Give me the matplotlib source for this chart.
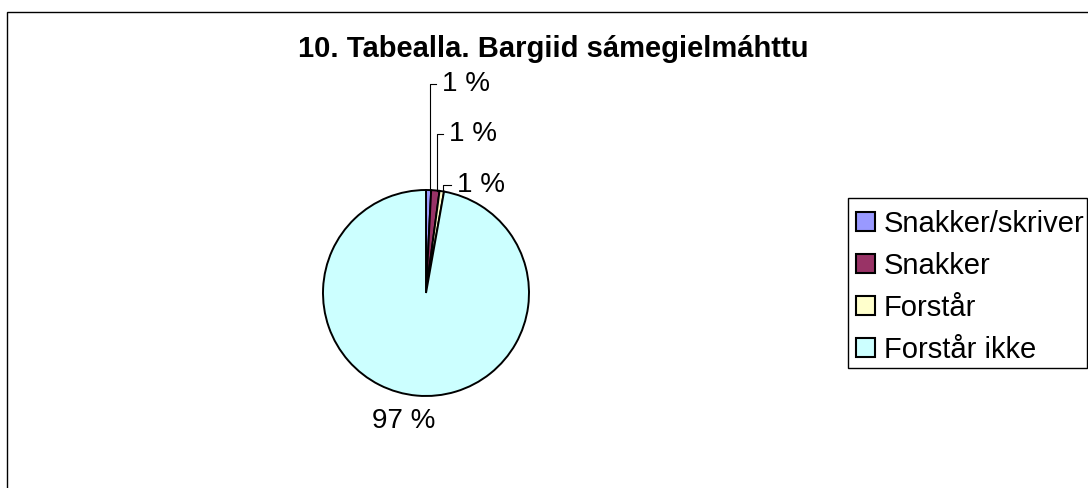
import numpy as np
import matplotlib
matplotlib.use('Agg')
import matplotlib.pyplot as plt
from matplotlib.patches import Rectangle

plt.rcParams['font.family'] = ['Liberation Sans', 'DejaVu Sans']

title = '10. Tabealla. Bargiid sámegielmáhttu'
categories = ['Snakker/skriver', 'Snakker', 'Forstår', 'Forstår ikke']
shares = [0.8, 1.3, 0.7, 97.2]
labels = ['1 %', '1 %', '1 %', '97 %']
colors = ['#9999FF', '#993366', '#FFFFCC', '#CCFFFF']

W, H = 1088, 488
fig = plt.figure(figsize=(W / 100, H / 100), dpi=100)

# chart area border (runs off the right and bottom edges)
fig.patches.append(Rectangle((7 / W, -0.1), 1.2, 1.1 - 12 / H, transform=fig.transFigure,
                             fill=False, edgecolor='black', linewidth=1.0))

# pie: centre (426, 293) px, radius 103 px
cx, cy, r = 426, 293, 103
ax = fig.add_axes([(cx - r) / W, (H - cy - r) / H, 2 * r / W, 2 * r / H])
wedges, _ = ax.pie(shares, colors=colors, startangle=90, counterclock=False,
                   wedgeprops=dict(edgecolor='black', linewidth=1.4))
ax.set_xlim(-1, 1)
ax.set_ylim(-1, 1)
ax.set_aspect('equal')
ax.axis('off')

# small slices: labels stacked above, with elbow leader lines
label_x = [0.155, 0.223, 0.301]
label_y = [2.03, 1.54, 1.05]
frac = np.cumsum([0] + shares) / sum(shares)
for i in range(3):
    ang = 2 * np.pi * (frac[i] + 0.7 * (frac[i + 1] - frac[i]))
    x0, y0 = np.sin(ang), np.cos(ang)
    ax.plot([x0, x0, label_x[i] - 0.055], [y0, label_y[i], label_y[i]],
            color='black', linewidth=0.8, clip_on=False)
    ax.text(label_x[i], label_y[i], labels[i], fontsize=20, ha='left', va='center',
            clip_on=False)

ax.text(-0.218, -1.245, labels[3], fontsize=20, ha='center', va='center', clip_on=False)

fig.text(553 / W, 1 - 57 / H, title, fontsize=21, fontweight='bold',
         ha='center', va='baseline')

# legend box drawn separately so its padding can match
fig.patches.append(Rectangle((848 / W, 1 - 368 / H), (1087 - 848) / W, 170 / H,
                             transform=fig.transFigure, fill=False,
                             edgecolor='black', linewidth=1.0))
leg = fig.legend(wedges, categories, loc='upper left',
                 bbox_to_anchor=(847 / W, 1 - 201 / H), borderaxespad=0,
                 fontsize=21, frameon=False, handlelength=0.65, handleheight=0.65,
                 handletextpad=0.31, labelspacing=0.48, borderpad=0.3)
for h in leg.legend_handles:
    h.set_linewidth(1.5)

fig.savefig('out.png', dpi=100)
